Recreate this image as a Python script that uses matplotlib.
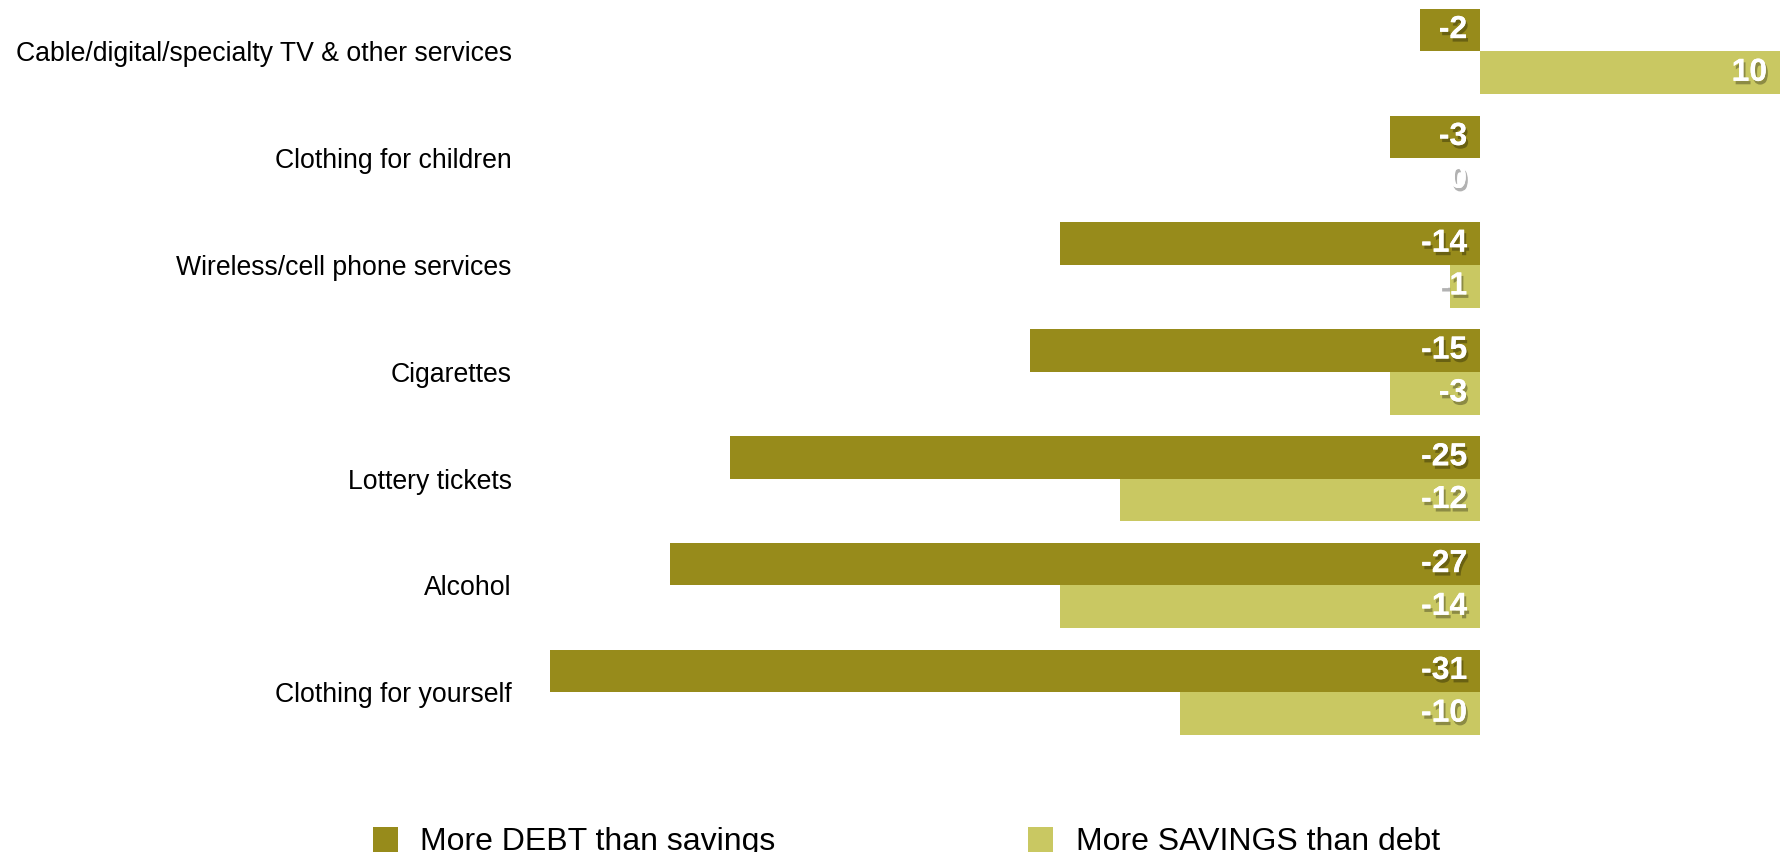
import matplotlib.pyplot as plt
import matplotlib.patheffects as pe
from matplotlib.patches import Rectangle
import numpy as np

CATEGORIES = [
    "Cable/digital/specialty TV & other services",
    "Clothing for children",
    "Wireless/cell phone services",
    "Cigarettes",
    "Lottery tickets",
    "Alcohol",
    "Clothing for yourself",
]
MORE_DEBT = [-2, -3, -14, -15, -25, -27, -31]
MORE_SAVINGS = [10, 0, -1, -3, -12, -14, -10]
SERIES_NAMES = ["More DEBT than savings", "More SAVINGS than debt"]
COLORS = ["#978B1B", "#C9C862"]

W, H = 1781, 852

plt.rcParams["font.family"] = ["Liberation Sans", "DejaVu Sans"]

fig = plt.figure(figsize=(W / 100, H / 100), dpi=100)
ax = fig.add_axes([520 / W, (H - 760) / H, 1 - 520 / W, 760 / H])

y = np.arange(len(CATEGORIES))
bar_h = 0.40
shadow = [pe.withSimplePatchShadow(offset=(1.5, -2.5), shadow_rgbFace="black", alpha=0.3),
          pe.Normal()]

for values, offset, color in zip((MORE_DEBT, MORE_SAVINGS), (-bar_h / 2, bar_h / 2), COLORS):
    ax.barh(y + offset, values, height=bar_h, color=color, linewidth=0)
    for yi, v in zip(y, values):
        ax.text(max(v, 0) - 0.43, yi + offset, f"{v}", ha="right", va="center",
                color="white", fontsize=23, fontweight="bold", path_effects=shadow)

ax.set_xlim(-32, 10.03)
ax.set_ylim(6.634, -0.482)
ax.set_yticks(y)
ax.set_yticklabels(CATEGORIES, fontsize=19.2)
ax.tick_params(axis="y", length=0, pad=6)
ax.set_xticks([])
for spine in ax.spines.values():
    spine.set_visible(False)

# legend drawn along the bottom edge
for name, color, sq_x, txt_x in zip(SERIES_NAMES, COLORS, (373, 1028), (420, 1076)):
    fig.patches.append(Rectangle((sq_x / W, 0), 25 / W, 25 / H, transform=fig.transFigure,
                                 color=color, linewidth=0))
    fig.text(txt_x / W, 2 / H, name, fontsize=23, va="baseline", ha="left")

fig.savefig("out.png", dpi=100)
